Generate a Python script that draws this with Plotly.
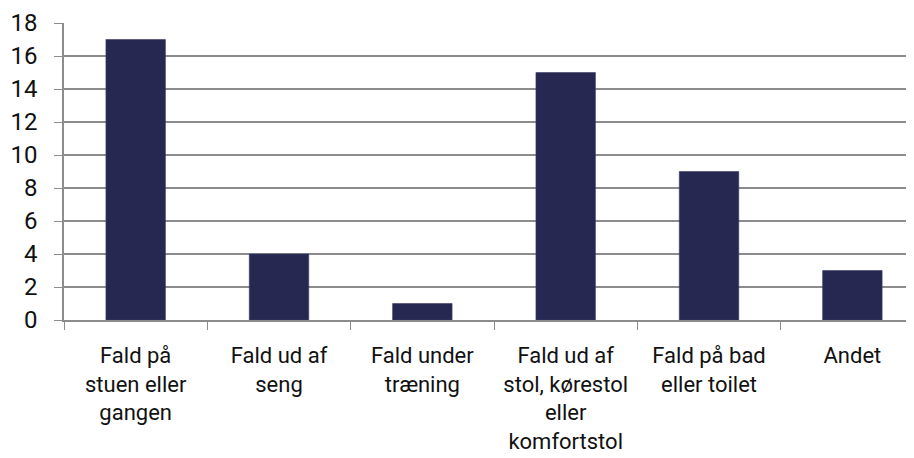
import plotly.graph_objects as go

categories = [
    "Fald på<br>stuen eller<br>gangen",
    "Fald ud af<br>seng",
    "Fald under<br>træning",
    "Fald ud af<br>stol, kørestol<br>eller<br>komfortstol",
    "Fald på bad<br>eller toilet",
    "Andet",
]
values = [17, 4, 1, 15, 9, 3]
y_ticks = list(range(0, 19, 2))

fig = go.Figure(
    go.Bar(
        x=categories,
        y=values,
        marker=dict(color="#262852", line=dict(color="#3a3d66", width=0.6)),
    )
)

grid = "#8c8c8c"
fig.update_layout(
    width=906,
    height=450,
    margin=dict(l=56, r=0, t=15, b=138),
    paper_bgcolor="white",
    plot_bgcolor="white",
    bargap=0.585,
    showlegend=False,
    font=dict(family="Roboto, Liberation Sans, sans-serif", size=22, color="#111111"),
)
fig.update_xaxes(
    type="category",
    range=[-0.5, 5.43],
    automargin=False,
    tickson="boundaries",
    ticks="outside",
    ticklen=8,
    tickcolor=grid,
    showline=True,
    linecolor=grid,
    linewidth=1.5,
    showgrid=False,
    tickangle=0,
    ticklabelstandoff=15,
    tickfont=dict(size=22),
)
fig.update_yaxes(
    range=[0, 18],
    automargin=False,
    tickvals=y_ticks,
    ticks="outside",
    ticklen=8,
    tickcolor=grid,
    showline=True,
    linecolor=grid,
    linewidth=1.5,
    gridcolor=grid,
    gridwidth=1.5,
    zeroline=False,
    ticklabelstandoff=12,
    tickfont=dict(size=24),
)

fig.write_html("out.html")
